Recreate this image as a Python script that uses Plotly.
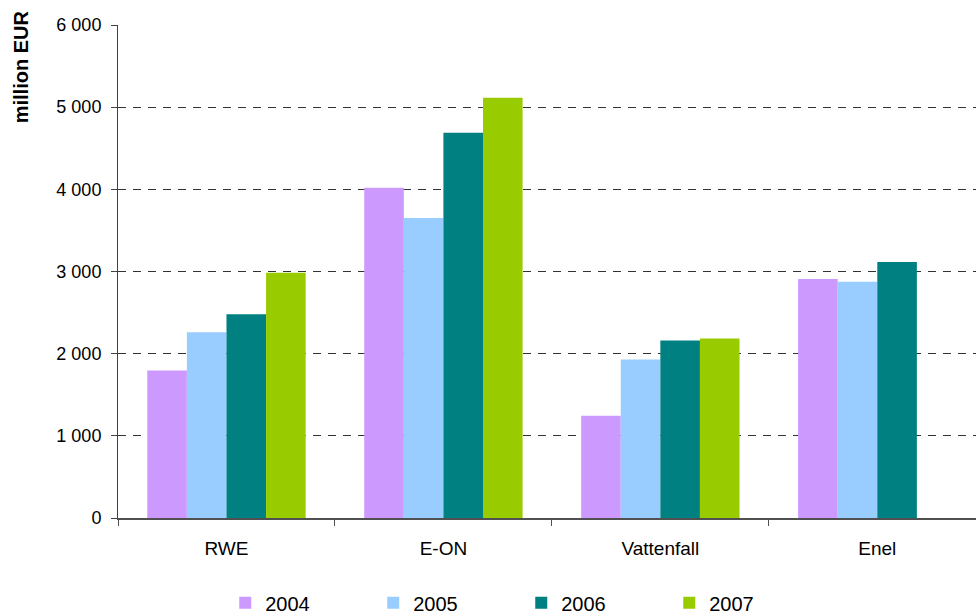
import plotly.graph_objects as go

companies = ["RWE", "E-ON", "Vattenfall", "Enel"]
years = ["2004", "2005", "2006", "2007"]
values_2004 = [1795, 4020, 1245, 2910]
values_2005 = [2260, 3650, 1930, 2875]
values_2006 = [2480, 4690, 2160, 3115]
values_2007 = [2985, 5115, 2185, None]
series = [values_2004, values_2005, values_2006, values_2007]
colors = ["#CC99FF", "#99CCFF", "#008080", "#99CC00"]
y_ticks = [0, 1000, 2000, 3000, 4000, 5000, 6000]

FONT = "Liberation Sans, Arial, sans-serif"

fig = go.Figure()
for name, vals, col in zip(years, series, colors):
    fig.add_trace(go.Bar(x=companies, y=vals, name=name, marker=dict(color=col, line=dict(width=0))))

fig.update_layout(
    width=976, height=614,
    margin=dict(l=118, r=0, t=25, b=96, autoexpand=False),
    paper_bgcolor="white", plot_bgcolor="white",
    barmode="group", bargap=0.27, bargroupgap=0,
    separators=", ",
    font=dict(family=FONT, size=18, color="#000000"),
    showlegend=True,
    legend=dict(orientation="h", x=0.125, xanchor="left", y=-0.172, yanchor="middle",
                entrywidth=103, entrywidthmode="pixels", font=dict(size=20),
                traceorder="normal", itemclick=False),
    xaxis=dict(range=[-0.5, 3.455], showline=True, linecolor="#505050", linewidth=1.5,
               ticks="outside", tickson="boundaries", ticklen=6, tickcolor="#505050",
               showgrid=False, zeroline=False, tickfont=dict(size=19),
               ticklabelstandoff=12),
    yaxis=dict(range=[0, 6000], tickvals=y_ticks, tickformat=",d", showline=True,
               linecolor="#404040", linewidth=1, ticks="outside", ticklen=6,
               tickcolor="#404040", showgrid=True, gridcolor="#333333", gridwidth=1,
               griddash="8px,7px", zeroline=False, tickfont=dict(size=18),
               ticklabelstandoff=6),
)

fig.add_annotation(text="<b>million EUR</b>", xref="paper", yref="paper",
                   x=-0.113, y=1.033, xanchor="center", yanchor="top",
                   textangle=-90, showarrow=False, font=dict(size=20, family=FONT))

fig.write_html("out.html",
               config={"displayModeBar": False},
               post_script="document.body.style.margin='0';document.body.style.padding='0';")
